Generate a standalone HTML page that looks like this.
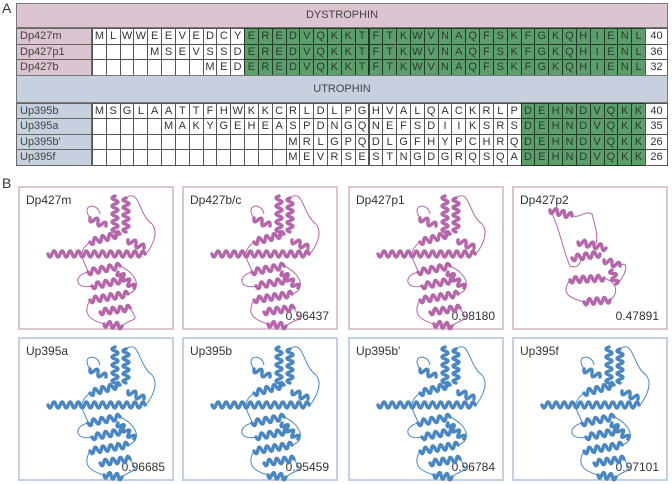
<!DOCTYPE html>
<html><head><meta charset="utf-8">
<style>
html,body{margin:0;padding:0;background:#fff;}
body{width:672px;height:484px;position:relative;overflow:hidden;font-family:"Liberation Sans",sans-serif;color:#333;}
.abs{position:absolute;box-sizing:border-box;}
.cell{position:absolute;box-sizing:border-box;border:1px solid #555;font-size:11px;line-height:13px;text-align:center;background:#fff;color:#333;}
.g{background:#5d9f6c;border-color:#1f3a25;color:#2a3a2a;}
.lab{position:absolute;box-sizing:border-box;border:1px solid #666;font-size:11px;padding-left:3px;color:#444;}
.hdr{position:absolute;box-sizing:border-box;border:1px solid #777;font-size:11px;text-align:center;color:#444;}
.panel{position:absolute;box-sizing:border-box;border:2px solid;background:#fff;}
.ptitle{position:absolute;left:6px;top:5px;font-size:12px;color:#333;}
.score{position:absolute;right:7px;bottom:5px;font-size:12px;color:#333;}
</style></head>
<body>
<div class="abs" style="left:2px;top:0px;font-size:14px;">A</div>
<div class="abs" style="left:2px;top:175px;font-size:14px;">B</div>
<div id="table"></div>
<div id="panels"></div>
<svg id="prot" width="672" height="484" style="position:absolute;left:0;top:0;pointer-events:none"></svg>
<script>
const dystNames=["Dp427m","Dp427p1","Dp427b"];
const dystSeqs=[["","MLWWEEVEDCY"],["    ","MSEVSSD"],["        ","MED"]];
const dystLens=[40,36,32];
const dystCore="EREDVQKKTFTKWVNAQFSKFGKQHIENL";
const utrNames=["Up395b","Up395a","Up395b'","Up395f"];
const utrSeqs=[["","MSGLAATTFHWKKCRLDLPGHVALQACKRLP"],["     ","MAKYGEHEASPDNGQNEFSDIIKSRS"],["              ","MRLGPQDLGFHYPCHRQ"],["              ","MEVRSESTNGDGRQSQA"]];
const utrLens=[40,35,26,26];
const utrCore="DEHNDVQKK";

const T=document.getElementById('table');
const X0=16,LW=76,CX=92,CW=553/40,NX=645,NW=23;
function mk(cls,x,y,w,h,txt,name){
  const d=document.createElement('div');d.className=cls;
  d.style.left=x+'px';d.style.top=y+'px';d.style.width=w+'px';d.style.height=h+'px';
  d.textContent=txt;
  
  
  T.appendChild(d);return d;
}
function section(title,bg,names,seqs,lens,core,y0,hh,rh){
  const h=mk('hdr',X0,y0,NX+NW-X0,hh,title,'section-header');
  h.style.background=bg;h.style.lineHeight=(hh-2)+'px';
  names.forEach((n,i)=>{
    const y=y0+hh+i*rh;
    const l=mk('lab',X0,y,LW,rh+1,n,'row-label');l.style.background=bg;l.style.lineHeight=(rh-1)+'px';
    const pre=seqs[i][0].length, s=seqs[i][1];
    const whiteN=40-core.length;
    for(let c=0;c<40;c++){
      let ch='',cls='cell';
      if(c<whiteN){ if(c>=pre && c-pre<s.length) ch=s[c-pre]; }
      else {ch=core[c-whiteN];cls='cell g';}
      const e=mk(cls,CX+c*CW,y,CW+1,rh+1,ch,'residue-cell');e.style.lineHeight=(rh-1)+'px';
    }
    const nn=mk('cell',NX,y,NW,rh+1,String(lens[i]),'length-value');nn.style.lineHeight=(rh-1)+'px';
  });
}
section('DYSTROPHIN','#dcc5d1',dystNames,dystSeqs,dystLens,dystCore,3,25,15.5);
section('UTROPHIN','#c6d0de',utrNames,utrSeqs,utrLens,utrCore,74.5,28,15.5);

const panelNames=["Dp427m","Dp427b/c","Dp427p1","Dp427p2","Up395a","Up395b","Up395b'","Up395f"];
const panelScores=["","0.96437","0.98180","0.47891","0.96685","0.95459","0.96784","0.97101"];
const P=document.getElementById('panels');
const colX=[18,182,348,512],rowY=[186,337],PW=156,PH=144;
const S=document.getElementById('prot');const NS='http://www.w3.org/2000/svg';
function helix(g,x1,y1,x2,y2,col){
  const dx=x2-x1,dy=y2-y1,L=Math.hypot(dx,dy),n=Math.max(2,Math.round(L/4));
  const ux=dx/L,uy=dy/L,px=-uy,py=ux;let d='M'+x1+' '+y1;
  for(let i=1;i<=n;i++){const t=i/n,cx=x1+dx*(t-0.5/n),cy=y1+dy*(t-0.5/n),a=(i%2?3:-3);
    d+=' Q'+(cx+px*a*2).toFixed(1)+' '+(cy+py*a*2).toFixed(1)+' '+(x1+dx*t).toFixed(1)+' '+(y1+dy*t).toFixed(1);}
  const p=document.createElementNS(NS,'path');p.setAttribute('d',d);p.setAttribute('fill','none');
  p.setAttribute('stroke',col);p.setAttribute('stroke-width','3.4');p.setAttribute('stroke-linecap','round');
  
  
  g.appendChild(p);
}
function loop(g,d,col){const p=document.createElementNS(NS,'path');p.setAttribute('d',d);p.setAttribute('fill','none');
  p.setAttribute('stroke',col);p.setAttribute('stroke-width','1');
  
  
  g.appendChild(p);}
function protein(g,col,longH){
  if(longH) helix(g,-62,0,35,0,col);
  helix(g,5,-58,5,-18,col);helix(g,16,-56,16,-22,col);helix(g,-20,-36,-4,-28,col);
  helix(g,-20,-12,10,-20,col);helix(g,18,-14,34,-6,col);
  helix(g,-22,18,10,12,col);helix(g,-18,32,14,26,col);helix(g,-20,46,18,40,col);
  helix(g,-10,58,20,54,col);helix(g,8,18,24,34,col);helix(g,-6,70,12,72,col);
  loop(g,'M16 -56 C30 -66 28 -40 42 -30 C50 -20 40 -5 36 0',col);
  loop(g,'M-20 -36 C-30 -50 -12 -52 -10 -40',col);
  loop(g,'M-22 18 C-38 22 -34 36 -18 32 M-20 46 C-28 60 -20 66 -6 70 M12 72 C24 62 30 70 20 54 M18 40 C32 36 28 20 10 12 M-20 -12 C-36 0 -24 8 -22 18',col);
}
function proteinP2(g,col){
  helix(g,-40,-48,-18,-42,col);
  loop(g,'M-18 -42 C-8 -40 -6 -48 2 -44 C6 -30 8 -22 6 -14 M-40 -48 C-30 -30 -28 -10 -20 8 C-10 12 -10 2 -6 -4',col);
  helix(g,-12,-16,16,-10,col);helix(g,-18,0,10,-4,col);helix(g,14,2,30,8,col);
  helix(g,-20,22,14,20,col);helix(g,-6,44,20,42,col);helix(g,22,12,26,26,col);
  loop(g,'M30 8 C40 0 36 20 26 26 M-20 22 C-30 36 -20 40 -6 44 M20 42 C30 34 26 24 14 20',col);
}
panelNames.forEach((n,i)=>{
  const r=Math.floor(i/4),c=i%4,x=colX[c],y=rowY[r];
  const d=document.createElement('div');d.className='panel';
  d.style.left=x+'px';d.style.top=y+'px';d.style.width=PW+'px';d.style.height=PH+'px';
  d.style.borderColor=r?'#c3cfe2':'#dcc4d2';
  
  
  const t=document.createElement('div');t.className='ptitle';t.textContent=n;
  
  
  d.appendChild(t);
  if(panelScores[i]){const s=document.createElement('div');s.className='score';s.textContent=panelScores[i];
    
    
    d.appendChild(s);}
  P.appendChild(d);
  const g=document.createElementNS(NS,'g');
  const col=r?'#4a87c2':'#b565a9';
  
  
  if(i===3){g.setAttribute('transform','translate('+(x+78)+','+(y+72)+')');proteinP2(g,col);}
  else {g.setAttribute('transform','translate('+(x+92)+','+(y+68)+')');protein(g,col,true);}
  S.appendChild(g);
});
</script>
</body></html>
